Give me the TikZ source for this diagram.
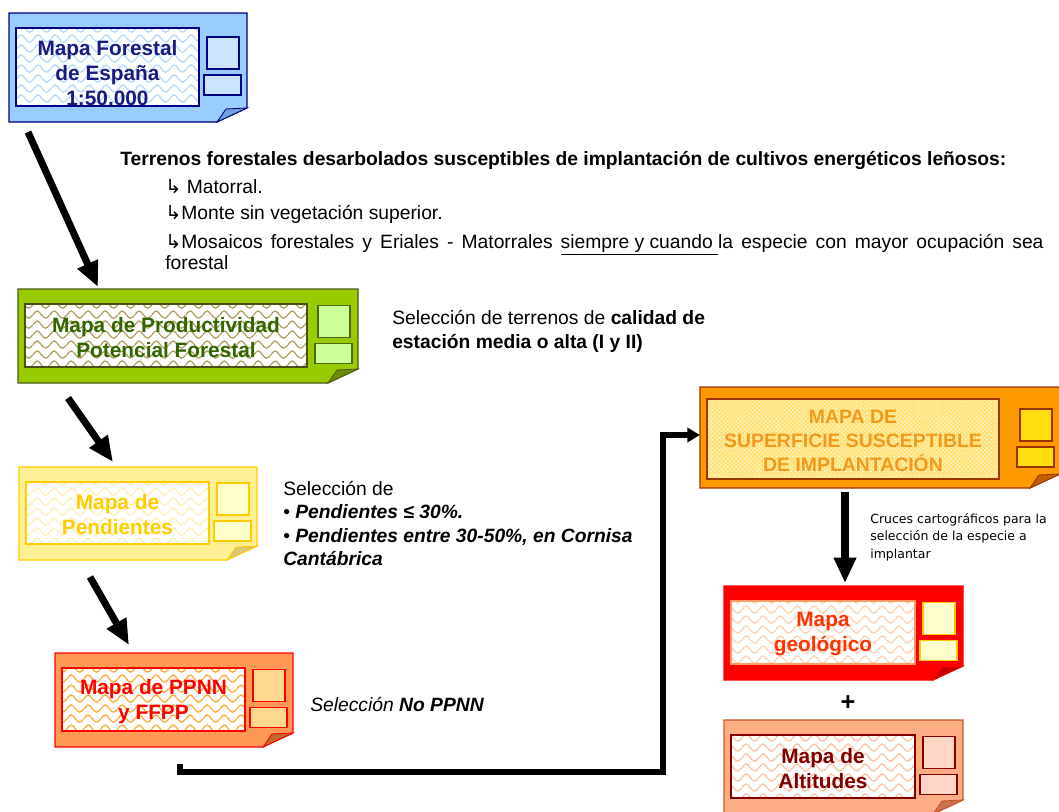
\documentclass[tikz,border=0pt]{standalone}
\usepackage{fontspec}
\setmainfont{Liberation Sans}
\newfontfamily\dejavu{DejaVu Sans}
\usetikzlibrary{arrows.meta,patterns,patterns.meta}

\tikzdeclarepattern{
  name=ondas,
  type=uncolored,
  bounding box={(0pt,0pt) and (12pt,7pt)},
  tile size={(12pt,7pt)},
  code={
    \draw[line width=0.9pt] (0pt,3pt) sin (3pt,5.8pt) cos (6pt,3pt) sin (9pt,0.6pt) cos (12pt,3pt);
  }
}

\colorlet{cW}{white}
\def\patron{ondas}
\def\margenA{15}
\def\margenB{16}

\tikzset{
  paleta/.code n args={8}{%
    \definecolor{cF}{HTML}{#1}\definecolor{cB}{HTML}{#2}%
    \definecolor{cP}{HTML}{#3}\definecolor{cI}{HTML}{#4}%
    \definecolor{cS}{HTML}{#5}\definecolor{cQ}{HTML}{#6}%
    \definecolor{cD}{HTML}{#7}\definecolor{cT}{HTML}{#8}},
  puntos/.code={\definecolor{cW}{HTML}{FFE27A}\def\patron{crosshatch dots}},
  marco/.code 2 args={\def\margenA{#1}\def\margenB{#2}},
  azul/.style={paleta={99CCFF}{000080}{B5D8FF}{000080}{CCE5FF}{000080}{6F9FD8}{1A1A80},
    etiqueta/.append style={yshift=-3pt}},
  verde/.style={paleta={99CC00}{4D5A1A}{B0A060}{4D4D1A}{CCFF99}{4D661A}{6B8F00}{336600}},
  amarillo/.style={paleta={FFEF95}{FFCC00}{FFEFB5}{FFCC00}{FFFFCC}{FFCC00}{D8C878}{FFCC00}},
  naranja/.style={paleta={FF9955}{FF0000}{FFAA33}{FF0000}{FFD890}{FF0000}{C06A30}{FF0000}},
  superficie/.style={paleta={FF9900}{993300}{FFFFFF}{993300}{FFDD11}{993300}{C06000}{F39A1C}, puntos, marco={12}{9},
    etiqueta/.append style={font=\fontsize{13.8}{17}\selectfont\bfseries}},
  geologico/.style={paleta={FF0000}{FF0000}{FFD0B0}{FF9966}{FFFFCC}{FFCC00}{C00000}{FF3300}},
  altitud/.style={paleta={FFAD85}{CC5522}{FFC0A0}{800000}{FFD5C5}{800000}{C87050}{800000}},
  exterior/.style={fill=cF, draw=cB, line width=0.8pt},
  pliegue/.style={fill=cD, draw=cB, line width=0.6pt},
  interior/.style={draw=cI, line width=0.8pt, preaction={fill=cW}, pattern color=cP, pattern/.expanded=\patron},
  cuadro/.style={fill=cS, draw=cQ, line width=0.8pt},
  etiqueta/.style={text=cT, font=\fontsize{14.8}{17.8}\selectfont\bfseries, align=center, inner sep=0pt, yshift=-1.4pt},
  cuerpo/.style={font=\fontsize{13.7}{16}\selectfont, inner sep=0pt},
  flecha/.style={line width=5pt, -{Triangle[length=18pt,width=15pt]}},
  codo/.style={line width=4.2pt, -{Triangle[length=9pt,width=10pt]}},
}

% name, colours, x0, y0, x1, y1, right of the inner frame, label
\newcommand{\mapa}[8]{%
  \begin{scope}[#2]
    \pgfmathsetmacro\iy{#4+\margenA}
    \pgfmathsetmacro\iyy{#6-\margenB}
    \pgfmathsetmacro\cy{(\iy+\iyy)/2}
    \pgfmathsetmacro\cx{(#3+7+#7)/2}
    \draw[exterior] (#3,#4) -- (#5,#4) -- (#5,#6-14) -- (#5-30,#6) -- (#3,#6) -- cycle;
    \draw[pliegue] (#5-30,#6) -- (#5-21,#6-13) -- (#5,#6-14) -- cycle;
    \draw[interior] (#3+7,\iy) rectangle (#7,\iyy);
    \draw[cuadro] (#5-40,\cy-30) rectangle (#5-8,\cy+2);
    \draw[cuadro] (#5-43,\cy+8) rectangle (#5-6,\cy+28);
    \node[etiqueta] (#1) at (\cx,\cy) {#8};
  \end{scope}}

\begin{document}
\begin{tikzpicture}[x=0.025cm, y=-0.025cm]
	\useasboundingbox (0,0) rectangle (1059,811);
	\clip (0,0) rectangle (1059,811);
	% maps
	\mapa{mfe}{azul}{9}{13}{247}{122}{199}{Mapa Forestal\\de España\\1:50.000}
	\mapa{mpf}{verde}{18}{289}{358}{383}{307}{Mapa de Productividad\\Potencial Forestal}
	\mapa{mpe}{amarillo}{19}{467}{257}{560}{209}{Mapa de\\Pendientes}
	\mapa{mpn}{naranja}{55}{653}{293}{747}{245}{Mapa de PPNN\\y FFPP}
	\mapa{msu}{superficie}{700}{387}{1060}{488}{999}{MAPA DE\\SUPERFICIE SUSCEPTIBLE\\DE IMPLANTACIÓN}
	\mapa{mge}{geologico}{724}{586}{963}{680}{915}{Mapa\\geológico}
	\mapa{mal}{altitud}{724}{720}{963}{814}{915}{Mapa de\\Altitudes}
	\node[font=\fontsize{18}{18}\selectfont\bfseries] (mas) at (848,703) {+};
	% texts
	\node[cuerpo, anchor=west, font=\fontsize{13.7}{16}\selectfont\bfseries] (tit) at (120,160)
		{Terrenos forestales desarbolados susceptibles de implantación de cultivos energéticos leñosos:};
	\node[cuerpo, anchor=west] (l1) at (165,187) {{\dejavu ↳} Matorral.};
	\node[cuerpo, anchor=west] (l2) at (165,214) {{\dejavu ↳}Monte sin vegetación superior.};
	\node[cuerpo, anchor=north west, text width=21.95cm, align=justify, font=\fontsize{13.7}{15}\selectfont] (l3) at (165,234)
		{{\dejavu ↳}Mosaicos forestales y Eriales - Matorrales \underline{siempre y cuando\ }la especie con mayor ocupación sea\linebreak forestal};
	\node[cuerpo, anchor=north west, align=left, font=\fontsize{13.7}{17}\selectfont] (t2) at (392,310)
		{Selección de terrenos de \textbf{calidad de}\\\textbf{estación media o alta (I y II)}};
	\node[cuerpo, anchor=north west, align=left, font=\fontsize{13.7}{16.7}\selectfont] (t3) at (283,481)
		{Selección de\\• \textbf{\textit{Pendientes ≤ 30\%.}}\\• \textbf{\textit{Pendientes entre 30-50\%, en Cornisa}}\\\textbf{\textit{Cantábrica}}};
	\node[cuerpo, anchor=west] (t4) at (310,704) {\textit{Selección \textbf{No PPNN}}};
	\node[cuerpo, anchor=north west, align=left, font=\dejavu\fontsize{8.9}{12.4}\selectfont] (t5) at (870,513)
		{Cruces cartográficos para la\\selección de la especie a\\implantar};
	% arrows
	\coordinate (f1a) at (28,132);
	\coordinate (f1b) at (98,287);
	\coordinate (f2a) at (68,398);
	\coordinate (f2b) at (113,462);
	\coordinate (f3a) at (90,577);
	\coordinate (f3b) at (129,645);
	\coordinate (c0) at (180,764);
	\coordinate (c1) at (663,772);
	\coordinate (c2) at (700,435);
	\coordinate (f5a) at (845,492);
	\coordinate (f5b) at (845,583);
	\draw[flecha] (f1a) -- (f1b);
	\draw[flecha] (f2a) -- (f2b);
	\draw[flecha] (f3a) -- (f3b);
	\draw[codo] (c0) |- (c1) |- (c2);
	\draw[flecha] (f5a) -- (f5b);
\end{tikzpicture}
\end{document}
